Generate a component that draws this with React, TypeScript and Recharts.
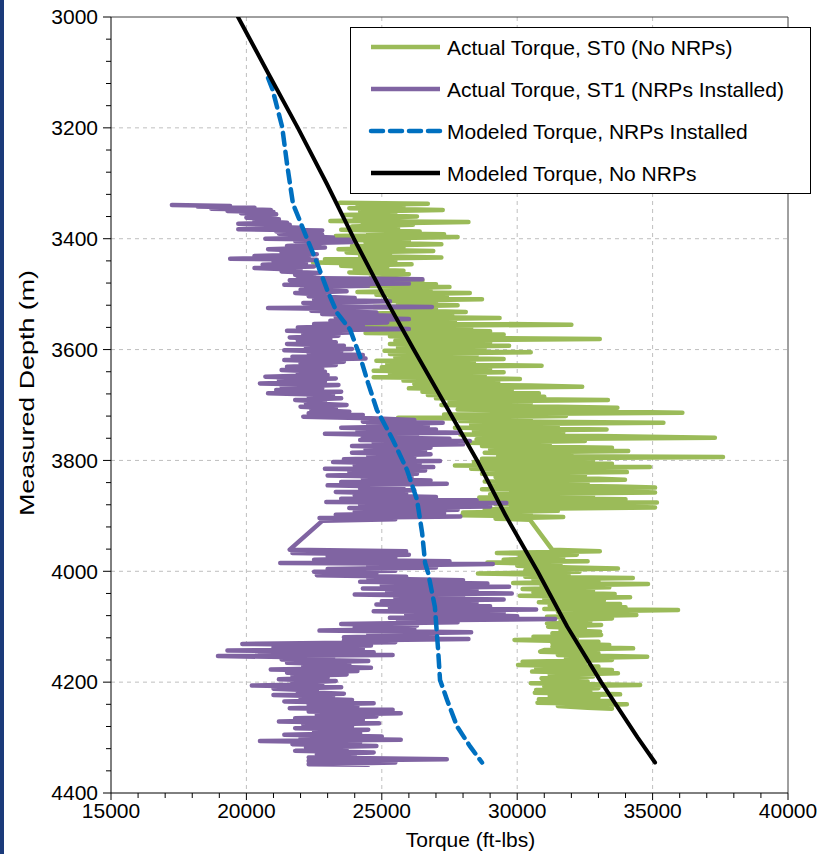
import React from 'react';
import { ScatterChart, Scatter, XAxis, YAxis, CartesianGrid, ReferenceLine, Legend } from 'recharts';

const FONT = '"Liberation Sans", Arial, Helvetica, sans-serif';

// Tick values
const xTicks = [15000, 16000, 17000, 18000, 19000, 20000, 21000, 22000, 23000, 24000, 25000, 26000, 27000, 28000, 29000, 30000, 31000, 32000, 33000, 34000, 35000, 36000, 37000, 38000, 39000, 40000];
const xMajor = [15000, 20000, 25000, 30000, 35000, 40000];
const yTicks = [3000, 3040, 3080, 3120, 3160, 3200, 3240, 3280, 3320, 3360, 3400, 3440, 3480, 3520, 3560, 3600, 3640, 3680, 3720, 3760, 3800, 3840, 3880, 3920, 3960, 4000, 4040, 4080, 4120, 4160, 4200, 4240, 4280, 4320, 4360, 4400];
const yMajor = [3000, 3200, 3400, 3600, 3800, 4000, 4200, 4400];
const gridX = [20000, 25000, 30000, 35000];
const gridY = [3200, 3400, 3600, 3800, 4000, 4200];

// Series: [depth (m), torque (ft-lbs)]
const modeledNoNRP: [number, number][] = [
  [3000, 19690], [3100, 20790], [3200, 21900], [3300, 22960], [3400, 23970], [3500, 25040], [3600, 26180],
  [3700, 27350], [3800, 28520], [3900, 29580], [4000, 30750], [4100, 31850], [4200, 33100], [4300, 34450], [4345, 35090],
];

const modeledNRP: [number, number][] = [
  [3110, 20800], [3130, 20960], [3198, 21320], [3265, 21500], [3337, 21720], [3400, 22240], [3444, 22610],
  [3492, 22980], [3534, 23350], [3564, 23830], [3613, 24200], [3660, 24490], [3709, 24820], [3763, 25410],
  [3817, 25930], [3871, 26300], [3931, 26490], [3985, 26600], [4003, 26710], [4064, 26960], [4142, 27080],
  [4196, 27150], [4232, 27410], [4280, 27780], [4316, 28260], [4345, 28700],
];

const actualST1: [number, number][] = [
  [3339, 17250], [3341, 19400], [3342, 18200], [3344, 20300], [3346, 18700], [3348, 20900], [3350, 19300], [3352, 21000],
  [3354, 19800], [3356, 21100], [3358, 20200], [3360, 20900], [3362, 20000], [3365, 21200], [3368, 20300], [3371, 21500],
  [3373, 19700], [3375, 21600], [3378, 20400], [3380, 22000], [3383, 19700], [3385, 22800], [3387, 21100], [3389, 22300],
  [3391, 21200], [3393, 22800], [3395, 21600], [3398, 23200], [3400, 20700], [3402, 23800], [3404, 21800], [3406, 23900],
  [3408, 22000], [3410, 22700], [3413, 21500], [3416, 22900], [3419, 20800], [3422, 22400], [3425, 21300], [3428, 22600],
  [3431, 20300], [3434, 22300], [3436, 19400], [3438, 22600], [3441, 21000], [3444, 22200], [3447, 20600], [3450, 22500],
  [3453, 20300], [3456, 22000], [3459, 21300], [3462, 22700], [3465, 21800], [3468, 22500], [3471, 21900], [3473, 26500],
  [3475, 21600], [3477, 25000], [3479, 22300], [3481, 26000], [3483, 21400], [3485, 24500], [3487, 22200], [3490, 23200],
  [3492, 22000], [3495, 23700], [3498, 21800], [3501, 23000], [3504, 22300], [3507, 24000], [3510, 22500], [3513, 25300],
  [3516, 22100], [3519, 24200], [3521, 22600], [3523, 26850], [3525, 20800], [3527, 23500], [3530, 22400], [3533, 24800],
  [3536, 22800], [3539, 25400], [3542, 23300], [3545, 26000], [3548, 23100], [3551, 25200], [3554, 22500], [3557, 24300],
  [3560, 21900], [3563, 26000], [3566, 21500], [3569, 23800], [3572, 22100], [3575, 23400], [3578, 21600], [3581, 23100],
  [3584, 21900], [3587, 23300], [3590, 21500], [3593, 23600], [3596, 22200], [3599, 23900], [3601, 21400], [3604, 23500],
  [3607, 22300], [3610, 24300], [3613, 21700], [3616, 24400], [3619, 21400], [3622, 23600], [3625, 22000], [3628, 23300],
  [3631, 21500], [3634, 22800], [3637, 21300], [3640, 22900], [3643, 21900], [3646, 23000], [3649, 20700], [3652, 23300],
  [3655, 21200], [3658, 22900], [3661, 20500], [3664, 23400], [3667, 21300], [3670, 22800], [3673, 21100], [3676, 23500],
  [3679, 20800], [3682, 23200], [3685, 22300], [3688, 23500], [3691, 21800], [3694, 22900], [3697, 22200], [3700, 23700],
  [3703, 22000], [3706, 23300], [3709, 22400], [3712, 23800], [3715, 22300], [3718, 24300], [3721, 22100], [3724, 24600],
  [3727, 26200], [3730, 24300], [3732, 27250], [3735, 24500], [3738, 26700], [3741, 23500], [3744, 27000], [3747, 24100],
  [3750, 27900], [3752, 22900], [3755, 26300], [3758, 24300], [3761, 27500], [3763, 24200], [3765, 28250], [3768, 24700],
  [3771, 28000], [3774, 23900], [3777, 26800], [3780, 24400], [3783, 26600], [3786, 23900], [3789, 26800], [3792, 24500],
  [3795, 26200], [3798, 23600], [3801, 27150], [3803, 23200], [3806, 26400], [3809, 24000], [3812, 26900], [3815, 22900],
  [3818, 26600], [3821, 23800], [3824, 26300], [3827, 23000], [3830, 26100], [3833, 24300], [3836, 26800], [3839, 23500],
  [3842, 27400], [3845, 23000], [3848, 25800], [3851, 24200], [3854, 26200], [3857, 23300], [3860, 25900], [3863, 24000],
  [3866, 27000], [3869, 23500], [3872, 28500], [3875, 22950], [3877, 29600], [3880, 24200], [3883, 29000], [3886, 23800],
  [3889, 27800], [3892, 24000], [3895, 27300], [3898, 23300], [3901, 27900], [3904, 22700], [3906, 25500], [3909, 22800],
  [3961, 21600], [3964, 25900], [3967, 21700], [3970, 26000], [3973, 23000], [3976, 25500], [3979, 22500], [3982, 27500],
  [3985, 21250], [3987, 29100], [3990, 24500], [3993, 27000], [3996, 23000], [3999, 25500], [4001, 22500], [4004, 24800],
  [4007, 22600], [4010, 25900], [4013, 24500], [4016, 28000], [4019, 24200], [4022, 28900], [4025, 25000], [4028, 29700],
  [4031, 24300], [4034, 28500], [4037, 25200], [4040, 29800], [4042, 24000], [4045, 28000], [4048, 25500], [4051, 29500],
  [4054, 25000], [4057, 28500], [4060, 24800], [4063, 29000], [4066, 25300], [4069, 30700], [4072, 24700], [4075, 29500],
  [4078, 25900], [4081, 30000], [4084, 25300], [4086, 31400], [4089, 25600], [4092, 27800], [4095, 23500], [4098, 26300],
  [4101, 24000], [4104, 26200], [4107, 22700], [4110, 28300], [4113, 24500], [4116, 27000], [4119, 23600], [4122, 28200],
  [4125, 23600], [4128, 25500], [4131, 19850], [4134, 24600], [4137, 21000], [4140, 24300], [4143, 19300], [4146, 24700],
  [4149, 20500], [4151, 25400], [4153, 18950], [4156, 23200], [4159, 21300], [4162, 24500], [4165, 21500], [4168, 23800],
  [4171, 22100], [4174, 24600], [4177, 20900], [4180, 24100], [4183, 21500], [4186, 23700], [4189, 21700], [4192, 23000],
  [4195, 21200], [4198, 23300], [4201, 21700], [4204, 22800], [4206, 20200], [4209, 23500], [4212, 21000], [4215, 22600],
  [4218, 21900], [4221, 23600], [4223, 21000], [4226, 23200], [4229, 22000], [4232, 23900], [4235, 21400], [4238, 24700],
  [4241, 22300], [4244, 24100], [4247, 21600], [4250, 25400], [4253, 22300], [4256, 25700], [4259, 22600], [4262, 24800],
  [4265, 21800], [4268, 24300], [4271, 21200], [4274, 24900], [4277, 22100], [4280, 23900], [4283, 21800], [4286, 24500],
  [4289, 22500], [4292, 24200], [4295, 21400], [4298, 25000], [4301, 22000], [4304, 25700], [4306, 20500], [4309, 24200],
  [4312, 21700], [4315, 24800], [4318, 22200], [4321, 23700], [4324, 21800], [4327, 24700], [4330, 22600], [4333, 24000],
  [4336, 22300], [4339, 27400], [4342, 22300], [4345, 25500], [4348, 22300], [4349, 24500],
];

const actualST0: [number, number][] = [
  [3335, 23450], [3337, 26700], [3339, 24100], [3342, 25800], [3345, 23800], [3348, 27250], [3351, 24200], [3354, 25500],
  [3357, 23600], [3360, 26300], [3363, 24000], [3366, 25200], [3368, 23100], [3370, 28200], [3373, 24300], [3375, 26150],
  [3378, 23900], [3381, 25600], [3384, 23500], [3387, 26400], [3390, 24500], [3392, 27300], [3395, 23300], [3397, 27800],
  [3400, 24100], [3402, 23270], [3404, 26000], [3407, 24400], [3410, 27200], [3413, 23900], [3416, 25800], [3419, 23400],
  [3422, 26900], [3425, 23700], [3428, 25300], [3431, 24200], [3434, 27200], [3437, 22900], [3440, 25500], [3443, 22460],
  [3446, 26100], [3449, 23500], [3452, 25200], [3455, 24000], [3458, 25800], [3461, 23800], [3464, 26000], [3467, 24600],
  [3470, 25300], [3473, 24900], [3476, 26500], [3479, 24300], [3482, 27000], [3485, 24100], [3487, 27500], [3490, 25000],
  [3493, 26800], [3496, 24100], [3498, 28250], [3501, 24800], [3504, 27400], [3507, 25300], [3509, 28700], [3512, 25100],
  [3515, 27000], [3518, 25600], [3520, 27800], [3523, 24700], [3526, 27000], [3529, 25500], [3532, 28100], [3535, 24500],
  [3538, 27600], [3541, 25200], [3543, 29350], [3546, 24800], [3549, 27700], [3552, 24400], [3555, 32000], [3558, 24400],
  [3561, 28300], [3564, 25000], [3567, 29000], [3570, 24400], [3573, 29500], [3576, 25300], [3579, 28200], [3581, 33050],
  [3584, 25500], [3587, 29000], [3590, 25300], [3593, 29700], [3596, 25600], [3599, 28800], [3602, 25100], [3605, 30500],
  [3608, 25300], [3611, 28500], [3614, 25500], [3617, 29500], [3620, 24800], [3623, 28400], [3626, 25200], [3629, 30900],
  [3632, 25000], [3635, 29000], [3638, 24700], [3641, 29500], [3644, 25300], [3647, 28800], [3650, 24700], [3653, 30100],
  [3656, 25800], [3659, 29300], [3662, 26200], [3665, 30500], [3667, 32400], [3670, 26000], [3673, 29800], [3676, 26500],
  [3679, 30800], [3682, 26700], [3685, 31000], [3688, 27000], [3691, 33350], [3694, 27500], [3697, 30500], [3700, 27200],
  [3703, 31500], [3705, 33700], [3708, 27800], [3711, 32000], [3714, 36100], [3717, 27300], [3720, 31800], [3723, 25600],
  [3726, 30500], [3729, 27900], [3732, 35400], [3735, 28300], [3738, 31500], [3741, 27700], [3744, 33300], [3747, 28400],
  [3750, 31700], [3753, 27900], [3756, 33000], [3759, 37300], [3762, 28500], [3765, 32500], [3768, 28200], [3771, 31200],
  [3774, 28700], [3777, 33500], [3780, 29000], [3783, 34100], [3786, 28800], [3789, 32000], [3792, 29300], [3794, 37600],
  [3797, 28700], [3800, 32800], [3803, 28400], [3806, 33500], [3809, 27700], [3812, 34900], [3815, 28300], [3818, 32000],
  [3821, 34050], [3824, 28700], [3827, 32500], [3830, 29200], [3833, 33000], [3835, 33980], [3838, 28800], [3841, 32600],
  [3844, 29000], [3847, 33700], [3849, 35090], [3852, 28700], [3855, 33400], [3858, 35090], [3861, 29000], [3864, 32800],
  [3867, 28600], [3870, 34000], [3873, 28500], [3876, 35160], [3879, 29200], [3882, 33300], [3885, 35090], [3888, 28800],
  [3891, 31500], [3894, 28000], [3897, 30500], [3899, 27960], [3902, 31700], [3905, 29200], [3907, 30470],
  [3961, 31290], [3964, 33050], [3967, 29250], [3970, 32200], [3973, 30100], [3976, 31700], [3979, 29500], [3982, 32600],
  [3984, 28900], [3987, 31600], [3990, 30000], [3993, 32000], [3995, 33720], [3998, 30300], [4001, 32300], [4004, 28550],
  [4007, 31900], [4010, 30300], [4012, 34270], [4015, 30600], [4018, 33000], [4021, 29850], [4023, 34830], [4026, 30900],
  [4029, 33400], [4032, 30200], [4035, 32800], [4038, 30600], [4041, 33600], [4044, 30100], [4047, 34170], [4050, 31000],
  [4053, 33200], [4056, 30800], [4059, 33800], [4062, 31200], [4065, 34000], [4068, 31000], [4070, 35940], [4073, 31500],
  [4076, 33200], [4079, 34400], [4082, 31100], [4085, 33500], [4088, 31600], [4091, 32700], [4094, 31100], [4097, 33100],
  [4100, 31140], [4103, 32500], [4106, 31600], [4109, 33060], [4112, 31300], [4115, 33100], [4118, 30600], [4121, 32200],
  [4124, 29900], [4127, 33000], [4130, 31300], [4133, 33400], [4136, 31300], [4139, 34280], [4142, 31000], [4145, 30850],
  [4148, 33000], [4151, 31500], [4154, 34800], [4157, 31800], [4160, 33500], [4163, 30200], [4166, 32500], [4169, 30030],
  [4172, 33000], [4175, 30700], [4178, 33500], [4181, 30550], [4184, 33720], [4187, 31200], [4190, 32800], [4193, 30900],
  [4196, 30950], [4199, 32600], [4202, 30500], [4205, 34540], [4208, 31000], [4211, 33000], [4214, 30700], [4217, 32700],
  [4219, 30650], [4222, 33800], [4225, 31200], [4228, 33000], [4231, 30800], [4234, 33500], [4237, 30750], [4240, 34050],
  [4243, 31500], [4246, 32600], [4248, 33500],
];

const seriesNames = [
  'Actual Torque, ST0 (No NRPs)',
  'Actual Torque, ST1 (NRPs Installed)',
  'Modeled Torque, NRPs Installed',
  'Modeled Torque, No NRPs',
];

const GREEN = '#9BBB59';
const PURPLE = '#8064A2';
const BLUE = '#0070C0';
const BLACK = '#000000';
const legendStyles = [
  { color: GREEN, dash: undefined as string | undefined },
  { color: PURPLE, dash: undefined as string | undefined },
  { color: BLUE, dash: '12 7' },
  { color: BLACK, dash: undefined as string | undefined },
];

const toRows = (pts: [number, number][]) => pts.map(([d, t]) => ({ d, t }));

const NoShape = () => <g />;

const YTick = (props: any) => {
  const { x, y, payload } = props;
  const v = payload.value;
  const major = yMajor.includes(v);
  return (
    <g>
      <line x1={x - (major ? 8 : 5)} x2={x} y1={y} y2={y} stroke="#000" strokeWidth={1} />
      {major && (
        <text x={x - 13} y={y} dy="0.35em" textAnchor="end" fontSize={21} fontFamily={FONT} fill="#000">
          {v}
        </text>
      )}
    </g>
  );
};

const XTick = (props: any) => {
  const { x, y, payload } = props;
  const v = payload.value;
  const major = xMajor.includes(v);
  return (
    <g>
      <line x1={x} x2={x} y1={y} y2={y + (major ? 7 : 5)} stroke="#000" strokeWidth={1} />
      {major && (
        <text x={x} y={y + 25} textAnchor="middle" fontSize={21} fontFamily={FONT} fill="#000">
          {v}
        </text>
      )}
    </g>
  );
};

const XLabel = (props: any) => {
  const vb = props.viewBox || {};
  const cx = vb.x + vb.width / 2 + 21;
  return (
    <text x={cx} y={847} textAnchor="middle" fontSize={21} fontFamily={FONT} fill="#000">
      Torque (ft-lbs)
    </text>
  );
};

const YLabel = (props: any) => {
  const vb = props.viewBox || {};
  const cy = vb.y + vb.height / 2 - 12;
  return (
    <text
      x={34}
      y={cy}
      transform={`rotate(-90 34 ${cy})`}
      textAnchor="middle"
      fontSize={20}
      fontFamily={FONT}
      fill="#000"
      textLength={246}
      lengthAdjust="spacingAndGlyphs"
    >
      Measured Depth (m)
    </text>
  );
};

const LegendBox = () => (
  <svg width={461} height={167} style={{ display: 'block' }}>
    <rect x={0.5} y={0.5} width={460} height={166} fill="#fff" stroke="#000" strokeWidth={1} />
    {seriesNames.map((name, i) => {
      const cy = 20 + i * 42;
      const st = legendStyles[i];
      return (
        <g key={name}>
          <line x1={21} x2={90} y1={cy} y2={cy} stroke={st.color} strokeWidth={4.5} strokeDasharray={st.dash} strokeLinecap={st.dash ? 'round' : 'butt'} />
          <text x={97} y={cy} dy="0.36em" fontSize={21} fontFamily={FONT} fill="#000">
            {name}
          </text>
        </g>
      );
    })}
  </svg>
);

export default function App() {
  return (
    <div style={{ position: 'absolute', left: 0, top: 0, width: 834, height: 854, background: '#fff', overflow: 'hidden' }}>
      <ScatterChart width={834} height={854} margin={{ top: 17, right: 46, bottom: 0, left: 0 }}>
        <CartesianGrid stroke="#BFBFBF" strokeDasharray="4 4" horizontalValues={gridY} verticalValues={gridX} />
        <XAxis
          dataKey="t"
          type="number"
          domain={[15000, 40000]}
          ticks={xTicks}
          interval={0}
          allowDataOverflow
          height={61}
          tickSize={0}
          tickMargin={0}
          tickLine={false}
          tick={<XTick />}
          axisLine={{ stroke: '#000' }}
          label={<XLabel />}
        />
        <YAxis
          dataKey="d"
          type="number"
          domain={[3000, 4400]}
          reversed
          ticks={yTicks}
          interval={0}
          allowDataOverflow
          width={111}
          tickSize={0}
          tickMargin={0}
          tickLine={false}
          tick={<YTick />}
          axisLine={{ stroke: '#000' }}
          label={<YLabel />}
        />
        <ReferenceLine y={3000} stroke="#404040" strokeWidth={1} />
        <ReferenceLine x={40000} stroke="#404040" strokeWidth={1} />
        <Scatter
          name={seriesNames[0]}
          data={toRows(actualST0)}
          shape={NoShape}
          line={{ stroke: GREEN, strokeWidth: 4.5, strokeLinecap: 'round', strokeLinejoin: 'round' }}
          isAnimationActive={false}
          legendType="none"
        />
        <Scatter
          name={seriesNames[1]}
          data={toRows(actualST1)}
          shape={NoShape}
          line={{ stroke: PURPLE, strokeWidth: 4.5, strokeLinecap: 'round', strokeLinejoin: 'round' }}
          isAnimationActive={false}
          legendType="none"
        />
        <Scatter
          name={seriesNames[2]}
          data={toRows(modeledNRP)}
          shape={NoShape}
          line={{ stroke: BLUE, strokeWidth: 4.5, strokeDasharray: '12 7', strokeLinecap: 'round' }}
          isAnimationActive={false}
          legendType="none"
        />
        <Scatter
          name={seriesNames[3]}
          data={toRows(modeledNoNRP)}
          shape={NoShape}
          line={{ stroke: BLACK, strokeWidth: 4, strokeLinecap: 'round', strokeLinejoin: 'round' }}
          isAnimationActive={false}
          legendType="none"
        />
        <Legend
          layout="horizontal"
          verticalAlign="middle"
          align="center"
          content={<LegendBox />}
          wrapperStyle={{ left: 350, top: 27, width: 461, height: 167, position: 'absolute' }}
        />
      </ScatterChart>
      <div style={{ position: 'absolute', left: 0, top: 0, width: 4, height: 854, background: '#1B3A7A' }} />
    </div>
  );
}
